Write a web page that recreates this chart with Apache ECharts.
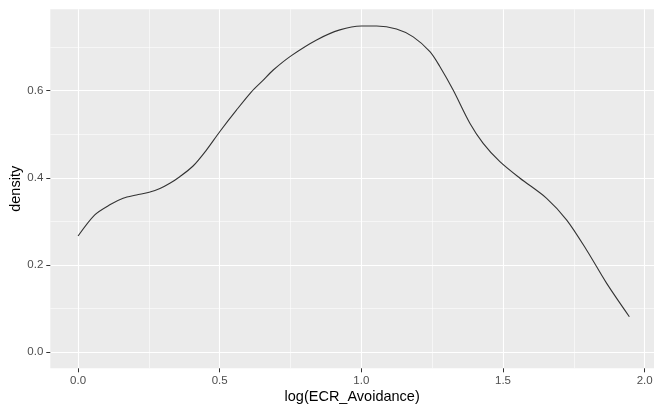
<!DOCTYPE html>
<html>
<head>
<meta charset="utf-8">
<script src="https://cdn.jsdelivr.net/npm/echarts@6/dist/echarts.min.js"></script>
<style>
html,body{margin:0;padding:0;background:#fff;}
#chart{width:654px;height:405px;}
</style>
</head>
<body>
<div id="chart"></div>
<script>
// Data
const xValues = [0, 0.059, 0.112, 0.159, 0.206, 0.251, 0.289, 0.324, 0.359, 0.406, 0.453, 0.5, 0.559, 0.612, 0.651, 0.689, 0.753, 0.842, 0.924, 1.0, 1.054, 1.124, 1.183, 1.242, 1.277, 1.324, 1.383, 1.43, 1.489, 1.56, 1.654, 1.725, 1.795, 1.866, 1.946];
const densityValues = [0.2665, 0.315, 0.338, 0.353, 0.3605, 0.367, 0.3755, 0.3875, 0.4025, 0.427, 0.4635, 0.5056, 0.555, 0.597, 0.622, 0.647, 0.680, 0.716, 0.739, 0.748, 0.748, 0.741, 0.723, 0.689, 0.655, 0.601, 0.525, 0.479, 0.437, 0.399, 0.353, 0.303, 0.2345, 0.158, 0.0816];
const xMajorTicks = [0, 0.5, 1.0, 1.5, 2.0];
const xMinorTicks = [0.25, 0.75, 1.25, 1.75];
const yMajorTicks = [0, 0.2, 0.4, 0.6];
const yMinorTicks = [0.1, 0.3, 0.5, 0.7];
const xTitle = 'log(ECR_Avoidance)';
const yTitle = 'density';

const FONT = "'Liberation Sans', Arial, sans-serif";
const xMin = -0.098, xMax = 2.033, yMin = -0.0367, yMax = 0.7862;

const chart = echarts.init(document.getElementById('chart'), null, {renderer: 'canvas'});
const fmt = v => Number(v).toFixed(1);

chart.setOption({
  animation: false,
  backgroundColor: '#ffffff',
  grid: {
    left: 50.3, right: 0, top: 9.3, bottom: 36.7,
    show: true, backgroundColor: '#EBEBEB', borderWidth: 0,
    containLabel: false,
    outerBoundsMode: 'none'
  },
  xAxis: [
    {
      type: 'value', min: xMin, max: xMax, position: 'bottom',
      name: xTitle, nameLocation: 'middle', nameGap: 21, nameMoveOverlap: false,
      nameTextStyle: {color: '#000', fontSize: 14.5, fontFamily: FONT},
      axisLine: {show: false, onZero: false},
      axisTick: {show: true, length: 4, lineStyle: {color: '#333333', width: 1}, customValues: xMajorTicks},
      axisLabel: {show: true, margin: 7, color: '#4D4D4D', fontSize: 11.5, fontFamily: FONT, customValues: xMajorTicks, formatter: fmt},
      splitLine: {show: true, lineStyle: {color: '#FFFFFF', width: 1.1}}
    },
    {
      type: 'value', min: xMin, max: xMax, position: 'bottom',
      axisLine: {show: false, onZero: false},
      axisTick: {show: false, customValues: xMinorTicks},
      axisLabel: {show: false, customValues: xMinorTicks},
      splitLine: {show: true, lineStyle: {color: '#FFFFFF', width: 0.55}}
    }
  ],
  yAxis: [
    {
      type: 'value', min: yMin, max: yMax, position: 'left',
      name: yTitle, nameLocation: 'middle', nameGap: 27, nameRotate: 90, nameMoveOverlap: false,
      nameTextStyle: {color: '#000', fontSize: 14.5, fontFamily: FONT},
      axisLine: {show: false, onZero: false},
      axisTick: {show: true, length: 4, lineStyle: {color: '#333333', width: 1}, customValues: yMajorTicks},
      axisLabel: {show: true, margin: 7, color: '#4D4D4D', fontSize: 11.5, fontFamily: FONT, customValues: yMajorTicks, formatter: fmt},
      splitLine: {show: true, lineStyle: {color: '#FFFFFF', width: 1.1}}
    },
    {
      type: 'value', min: yMin, max: yMax, position: 'left',
      axisLine: {show: false, onZero: false},
      axisTick: {show: false, customValues: yMinorTicks},
      axisLabel: {show: false, customValues: yMinorTicks},
      splitLine: {show: true, lineStyle: {color: '#FFFFFF', width: 0.55}}
    }
  ],
  series: [
    {
      type: 'line',
      xAxisIndex: 0, yAxisIndex: 0,
      data: xValues.map((x, i) => [x, densityValues[i]]),
      showSymbol: false,
      smooth: 0.3,
      lineStyle: {color: '#333333', width: 1.1},
      z: 10
    }
  ]
});
</script>
</body>
</html>
